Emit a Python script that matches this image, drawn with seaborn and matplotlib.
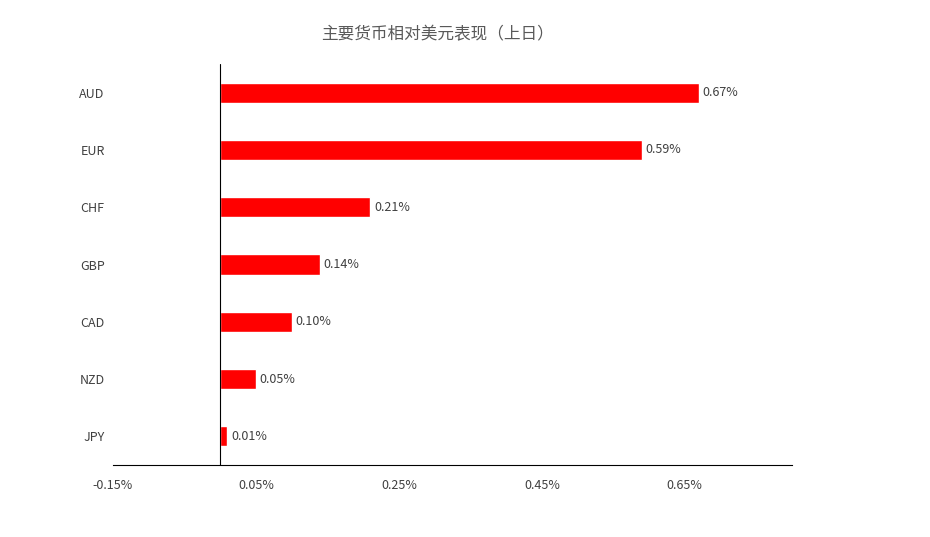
import matplotlib
matplotlib.use("Agg")
import matplotlib.pyplot as plt
import seaborn as sns
import pandas as pd

currencies = ["AUD", "EUR", "CHF", "GBP", "CAD", "NZD", "JPY"]
changes = [0.67, 0.59, 0.21, 0.14, 0.10, 0.05, 0.01]
tick_vals = [-0.15, 0.05, 0.25, 0.45, 0.65]
tick_labels = ["-0.15%", "0.05%", "0.25%", "0.45%", "0.65%"]

df = pd.DataFrame({"currency": currencies, "change": changes})

sns.set_theme(style="white")
plt.rcParams["font.family"] = ["Noto Sans CJK SC", "DejaVu Sans"]

fig = plt.figure(figsize=(9.3, 5.37), dpi=100)
ax = fig.add_axes([113 / 930, 1 - 465 / 537, (792 - 113) / 930, (465 - 64) / 537])
sns.barplot(data=df, x="change", y="currency", color="#ff0000", width=0.35,
            saturation=1, ax=ax)

ax.set_xlim(-0.15, 0.80)
ax.set_xticks(tick_vals)
ax.set_xticklabels(tick_labels, fontsize=9, color="#404040")
ax.tick_params(axis="y", labelsize=9, labelcolor="#404040", length=0, pad=6)
ax.tick_params(axis="x", length=0, pad=10)
ax.set_xlabel("")
ax.set_ylabel("")
for s in ["top", "right", "left"]:
    ax.spines[s].set_visible(False)
ax.spines["bottom"].set_color("black")
ax.spines["bottom"].set_linewidth(0.8)
ax.axvline(0, color="black", lw=0.8)

for i, v in enumerate(changes):
    ax.text(v + 0.005, i, f"{v:.2f}%", va="center", ha="left", fontsize=9, color="#404040")

fig.text(0.47, 1 - 35 / 537, "主要货币相对美元表现（上日）", ha="center", va="center",
         fontsize=12, color="#595959")

fig.savefig("out.png", dpi=100)
